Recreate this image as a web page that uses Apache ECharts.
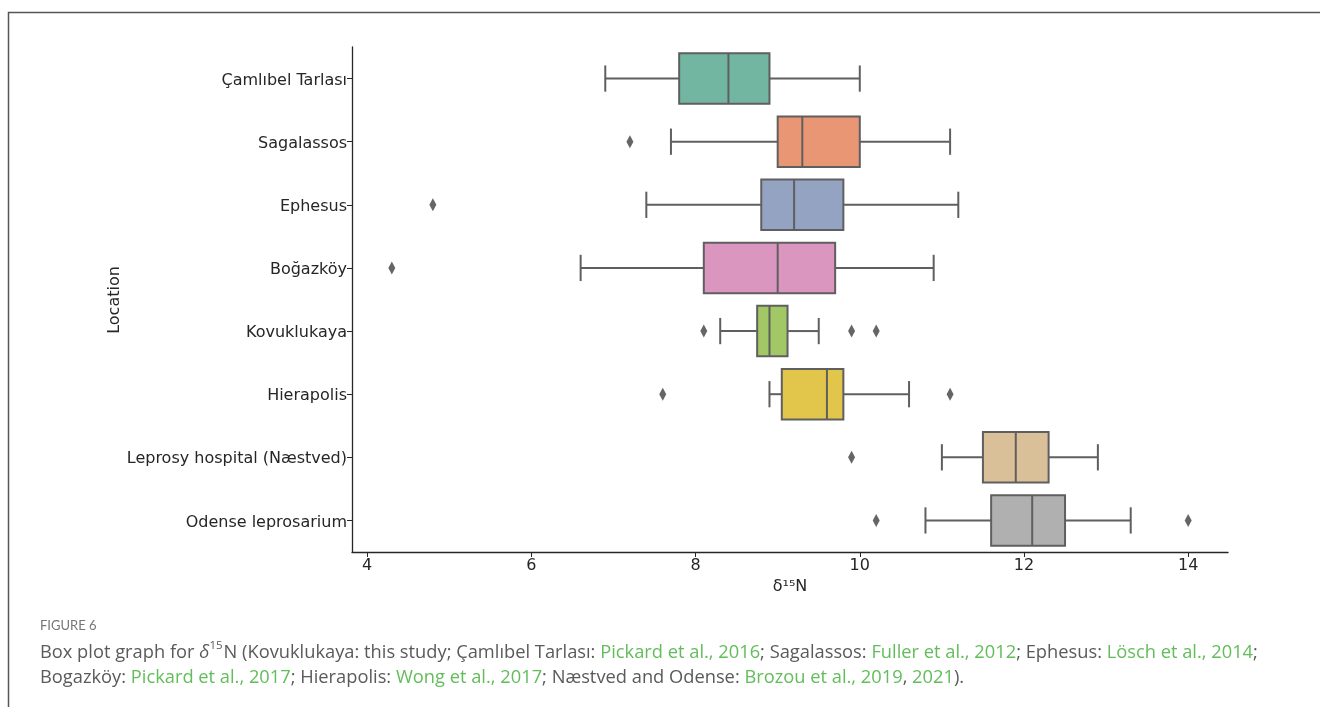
<!DOCTYPE html>
<html>
<head>
<meta charset="utf-8">
<script src="https://cdn.jsdelivr.net/npm/echarts@6/dist/echarts.min.js"></script>
<style>
html,body{margin:0;padding:0;background:#fff;}
#chart{width:1320px;height:707px;}
</style>
</head>
<body>
<div id="chart"></div>
<script>
const categories = ['Çamlıbel Tarlası','Sagalassos','Ephesus','Boğazköy','Kovuklukaya','Hierapolis','Leprosy hospital (Næstved)','Odense leprosarium'];
const whiskerLow  = [6.9, 7.7, 7.4, 6.6, 8.3, 8.9, 11.0, 10.8];
const q1          = [7.8, 9.0, 8.8, 8.1, 8.75, 9.05, 11.5, 11.6];
const median      = [8.4, 9.3, 9.2, 9.0, 8.9, 9.6, 11.9, 12.1];
const q3          = [8.9, 10.0, 9.8, 9.7, 9.12, 9.8, 12.3, 12.5];
const whiskerHigh = [10.0, 11.1, 11.2, 10.9, 9.5, 10.6, 12.9, 13.3];
const outliers    = [[], [7.2], [4.8], [4.3], [8.1, 9.9, 10.2], [7.6, 11.1], [9.9], [10.2, 14.0]];
const xTicks = [4, 6, 8, 10, 12, 14];
const boxColors = ['#72b6a1','#e99675','#95a3c3','#db96c0','#a2c865','#e1c64b','#d9c099','#b0b0b0'];

const edge = '#5f5f5f';
const boxData = categories.map((c, i) => [i, whiskerLow[i], q1[i], median[i], q3[i], whiskerHigh[i]]);
const outlierData = [];
outliers.forEach((arr, i) => arr.forEach(v => outlierData.push([v, i])));

function renderItem(params, api) {
  const i = api.value(0);
  const band = api.size([0, 1])[1];
  const h = band * 0.8;
  const cap = h * 0.52;
  const y = api.coord([api.value(3), i])[1];
  const xs = [1, 2, 3, 4, 5].map(d => api.coord([api.value(d), i])[0]);
  const st = { stroke: edge, lineWidth: 2, fill: null };
  return {
    type: 'group',
    children: [
      { type: 'line', shape: { x1: xs[0], y1: y, x2: xs[1], y2: y }, style: st },
      { type: 'line', shape: { x1: xs[3], y1: y, x2: xs[4], y2: y }, style: st },
      { type: 'line', shape: { x1: xs[0], y1: y - cap / 2, x2: xs[0], y2: y + cap / 2 }, style: st },
      { type: 'line', shape: { x1: xs[4], y1: y - cap / 2, x2: xs[4], y2: y + cap / 2 }, style: st },
      { type: 'rect', shape: { x: xs[1], y: y - h / 2, width: xs[3] - xs[1], height: h },
        style: { fill: boxColors[i], stroke: edge, lineWidth: 2 } },
      { type: 'line', shape: { x1: xs[2], y1: y - h / 2, x2: xs[2], y2: y + h / 2 }, style: st }
    ]
  };
}

const chart = echarts.init(document.getElementById('chart'), null, { renderer: 'canvas' });
const tickFont = 'DejaVu Sans';
const capFont = 'Open Sans';
const capSize = 18.3;
chart.setOption({
  animation: false,
  backgroundColor: '#fff',
  grid: { left: 352, top: 47, right: 92, bottom: 155 },
  xAxis: {
    type: 'value',
    min: 3.815, max: 14.485,
    interval: 2,
    name: 'δ¹⁵N',
    nameLocation: 'middle',
    nameGap: 24,
    nameTextStyle: { fontFamily: tickFont, fontSize: 16, color: '#262626' },
    axisLine: { show: true, onZero: false, lineStyle: { color: '#262626', width: 1.3 } },
    axisTick: { show: true, length: 5, lineStyle: { color: '#262626', width: 1 },
      customValues: xTicks },
    axisLabel: { fontFamily: tickFont, fontSize: 16, color: '#262626', margin: 6,
      customValues: xTicks, formatter: v => String(v) },
    splitLine: { show: false }
  },
  yAxis: {
    type: 'category',
    data: categories,
    inverse: true,
    axisLine: { show: true, lineStyle: { color: '#262626', width: 1.3 } },
    axisTick: { show: true, length: 5, alignWithLabel: true, lineStyle: { color: '#262626', width: 1 } },
    axisLabel: { margin: 5, formatter: v => '{a|' + v + '}',
      rich: { a: { fontFamily: tickFont, fontSize: 16, color: '#262626', padding: [4, 0, 0, 0] } } },
    splitLine: { show: false }
  },
  series: [
    {
      type: 'custom',
      renderItem: renderItem,
      data: boxData,
      encode: { x: [1, 2, 3, 4, 5], y: 0 },
      z: 2
    },
    {
      type: 'scatter',
      data: outlierData,
      symbol: 'diamond',
      symbolSize: [7, 13],
      itemStyle: { color: '#3f3f3f' },
      z: 3
    }
  ],
  graphic: [
    { type: 'polyline', shape: { points: [[8.5, 707], [8.5, 12.5], [1320, 12.5]] },
      style: { stroke: '#555', lineWidth: 1.5, fill: null }, silent: true },
    { type: 'text', x: 115, y: 300, rotation: Math.PI / 2,
      style: { text: 'Location', fontFamily: tickFont, fontSize: 16, fill: '#262626',
        align: 'center', verticalAlign: 'middle' } },
    { type: 'text', left: 40, top: 619,
      style: { text: 'FIGURE 6', fontFamily: 'Lato', fontSize: 13, fill: '#777' } },
    { type: 'text', left: 40, top: 640,
      style: {
        text: '{t|Box plot graph for }{i|δ}{s|15}{t|N (Kovuklukaya: this study; Çamlıbel Tarlası: }{g|Pickard et al., 2016}{t|; Sagalassos: }{g|Fuller et al., 2012}{t|; Ephesus: }{g|Lösch et al., 2014}{t|;}',
        rich: {
          t: { fontFamily: capFont, fontSize: capSize, fill: '#5a5a5a', lineHeight: 25 },
          i: { fontFamily: capFont, fontSize: capSize, fill: '#5a5a5a', fontStyle: 'italic', lineHeight: 25 },
          g: { fontFamily: capFont, fontSize: capSize, fill: '#62bd5a', lineHeight: 25 },
          s: { fontFamily: capFont, fontSize: 11.5, fill: '#5a5a5a', verticalAlign: 'top', lineHeight: 25, padding: [0, 1, 8, 0] }
        }
      } },
    { type: 'text', left: 40, top: 669,
      style: {
        text: '{t|Bogazköy: }{g|Pickard et al., 2017}{t|; Hierapolis: }{g|Wong et al., 2017}{t|; Næstved and Odense: }{g|Brozou et al., 2019}{t|, }{g|2021}{t|).}',
        rich: {
          t: { fontFamily: capFont, fontSize: capSize, fill: '#5a5a5a', lineHeight: 25 },
          g: { fontFamily: capFont, fontSize: capSize, fill: '#62bd5a', lineHeight: 25 }
        }
      } }
  ]
});
</script>
</body>
</html>
